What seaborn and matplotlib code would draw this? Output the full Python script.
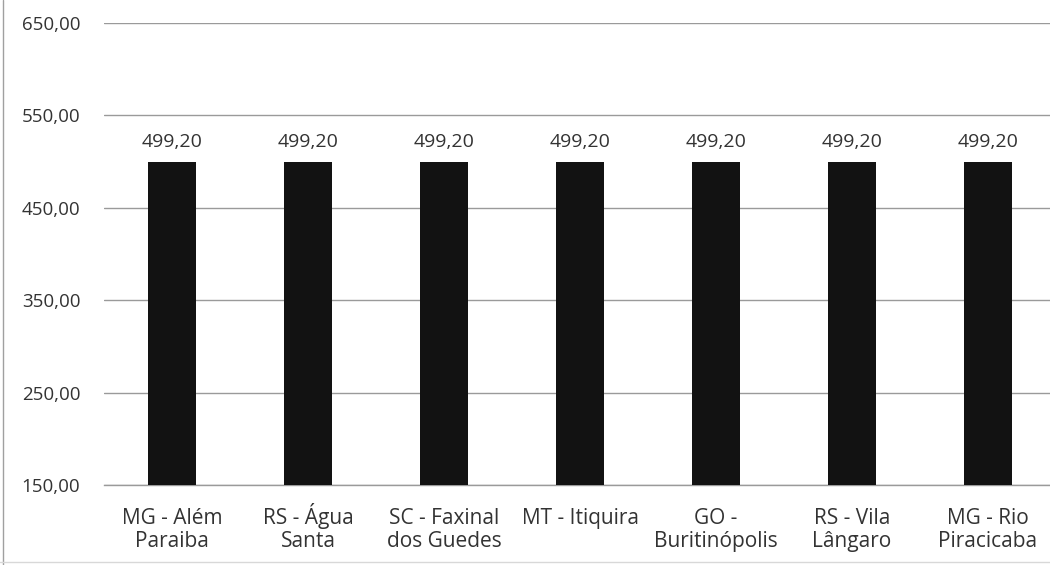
import pandas as pd
import matplotlib.pyplot as plt
import seaborn as sns

# Data
municipios = ["MG - Além\nParaiba", "RS - Água\nSanta", "SC - Faxinal\ndos Guedes",
              "MT - Itiquira", "GO -\nBuritinópolis", "RS - Vila\nLângaro", "MG - Rio\nPiracicaba"]
valores = [499.20, 499.20, 499.20, 499.20, 499.20, 499.20, 499.20]
y_ticks = [150, 250, 350, 450, 550, 650]

df = pd.DataFrame({"municipio": municipios, "valor": valores})

sns.set_style("white")
plt.rcParams["font.family"] = ["Open Sans", "DejaVu Sans"]

fig = plt.figure(figsize=(10.5, 5.65), dpi=100)
ax = fig.add_axes([104 / 1050, 1 - 485 / 565, (1056 - 104) / 1050, (485 - 23) / 565])

sns.barplot(data=df, x="municipio", y="valor", color="#121212", width=0.35,
            saturation=1, linewidth=0, edgecolor="none", ax=ax, zorder=3)

# value labels
for i, v in enumerate(valores):
    ax.text(i, v + 12, f"{v:.2f}".replace(".", ","), ha="center", va="bottom",
            fontsize=14, color="#333333")

ax.set_ylim(150, 650)
ax.set_yticks(y_ticks)
ax.set_yticklabels([f"{t:.2f}".replace(".", ",") for t in y_ticks], fontsize=13.5, color="#333333")
ax.tick_params(axis="y", length=0, pad=17)
ax.tick_params(axis="x", length=0)
ax.set_xticklabels([])

# category labels, one text per line so the baselines line up
for i, name in enumerate(municipios):
    for j, line in enumerate(name.split("\n")):
        ax.annotate(line, xy=(i, 0), xycoords=("data", "axes fraction"),
                    xytext=(0, -39 - 23 * j), textcoords="offset pixels",
                    ha="center", va="baseline", fontsize=15, color="#333333")

ax.set_xlabel("")
ax.set_ylabel("")
ax.grid(axis="y", color="#9a9a9a", linewidth=1.0, zorder=0)
for s in ax.spines.values():
    s.set_visible(False)
ax.spines["bottom"].set_visible(True)
ax.spines["bottom"].set_color("#9a9a9a")
ax.spines["bottom"].set_linewidth(1.0)

# page frame lines of the scan
fig.add_artist(plt.Line2D([3 / 1050, 3 / 1050], [0, 1], color="#a0a0a0", linewidth=1.0))
fig.add_artist(plt.Line2D([0, 1], [3 / 565, 3 / 565], color="#d8d8d8", linewidth=1.0))

fig.savefig("out.png", dpi=100)
